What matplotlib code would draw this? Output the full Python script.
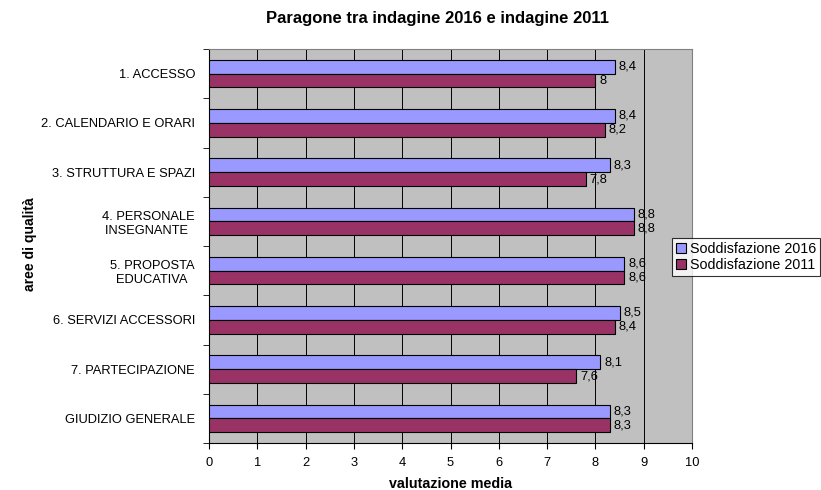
import numpy as np
import matplotlib.pyplot as plt

aree = ['1. ACCESSO', '2. CALENDARIO E ORARI', '3. STRUTTURA E SPAZI',
        '4. PERSONALE\nINSEGNANTE ', '5. PROPOSTA\nEDUCATIVA ', '6. SERVIZI ACCESSORI',
        '7. PARTECIPAZIONE', 'GIUDIZIO GENERALE']
sodd_2016 = [8.4, 8.4, 8.3, 8.8, 8.6, 8.5, 8.1, 8.3]
sodd_2011 = [8.0, 8.2, 7.8, 8.8, 8.6, 8.4, 7.6, 8.3]

plt.rcParams['font.family'] = ['Liberation Sans', 'DejaVu Sans']

fig = plt.figure(figsize=(8.21, 4.9), dpi=100)
ax = fig.add_axes([209/821, 1 - 443/490, (692 - 209)/821, (443 - 49)/490])
ax.set_facecolor('#C0C0C0')

y = np.arange(len(aree))
h = 0.28
ax.barh(y - h/2, sodd_2016, height=h, color='#9999FF', edgecolor='black', linewidth=0.8,
        label='Soddisfazione 2016', zorder=3)
ax.barh(y + h/2, sodd_2011, height=h, color='#993366', edgecolor='black', linewidth=0.8,
        label='Soddisfazione 2011', zorder=3)

def fmt(v):
    return ('%g' % v).replace('.', ',')

for i in range(len(aree)):
    ax.text(sodd_2016[i] + 0.08, y[i] - h/2, fmt(sodd_2016[i]), va='center', ha='left', fontsize=9.3)
    ax.text(sodd_2011[i] + 0.08, y[i] + h/2, fmt(sodd_2011[i]), va='center', ha='left', fontsize=9.3)

ax.set_xlim(0, 10)
ax.set_ylim(len(aree) - 0.5, -0.5)
ax.set_xticks(range(0, 11))
ax.set_yticks(y)
ax.set_yticklabels(aree, fontsize=9.3)
ax.set_yticks(np.arange(-0.5, len(aree)), minor=True)
ax.tick_params(axis='y', which='major', length=0, pad=10)
ax.tick_params(axis='y', which='minor', length=4, direction='out')
ax.tick_params(axis='x', length=4, direction='out', labelsize=9.3, pad=6)
for lbl in ax.get_yticklabels():
    lbl.set_multialignment('center')
ax.grid(axis='x', color='black', linewidth=0.7, zorder=0)
ax.set_axisbelow(True)
for s in ['top', 'right']:
    ax.spines[s].set_color('#808080')
    ax.spines[s].set_linewidth(0.8)
ax.spines['left'].set_linewidth(0.8)
ax.spines['bottom'].set_linewidth(0.8)

fig.text(437/821, 1 - 18/490, 'Paragone tra indagine 2016 e indagine 2011', ha='center', va='center',
         fontsize=12, fontweight='bold')
fig.text(30/821, 1 - 244/490, 'aree di qualità', rotation=90, ha='center', va='center',
         fontsize=10, fontweight='bold')
fig.text(451/821, 1 - 484/490, 'valutazione media', ha='center', va='center',
         fontsize=10.3, fontweight='bold')

leg = fig.legend(loc='upper left', bbox_to_anchor=(672/821, 1 - 238/490), fontsize=10.3,
                 frameon=True, fancybox=False, edgecolor='black', handlelength=0.7,
                 handleheight=0.7, handletextpad=0.3, borderpad=0.25, labelspacing=0.2,
                 borderaxespad=0)
leg.get_frame().set_linewidth(0.8)

plt.savefig('out.png', dpi=100)
